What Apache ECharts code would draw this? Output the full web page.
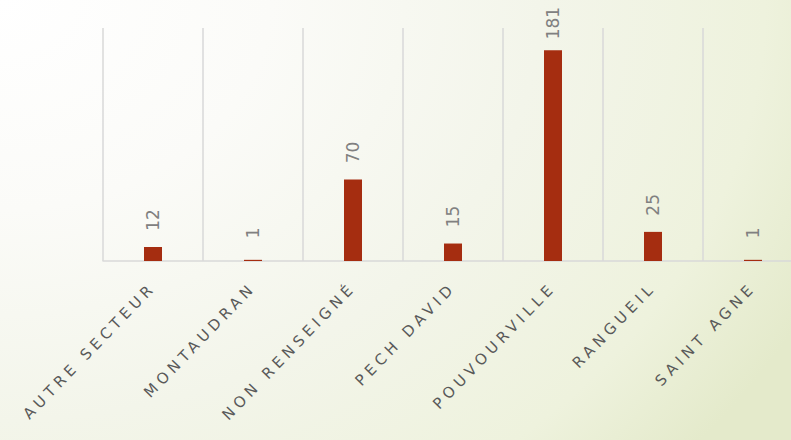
<!DOCTYPE html>
<html>
<head>
<meta charset="utf-8">
<script src="https://cdn.jsdelivr.net/npm/echarts@6/dist/echarts.min.js"></script>
<style>
  html, body { margin: 0; padding: 0; }
  body {
    width: 791px; height: 440px; overflow: hidden;
    background: radial-gradient(900px 700px at 0px 0px, #ffffff 0%, #fbfbf8 30%, #f3f5ea 60%, #eef2dd 85%, #e4eacb 100%);
  }
  #chart { width: 791px; height: 440px; }
  #chart text[fill="#595959"], #chart text[fill="rgb(89,89,89)"] { letter-spacing: 4.5px; }
</style>
</head>
<body>
<div id="chart"></div>
<script>
const categories = ["AUTRE SECTEUR", "MONTAUDRAN", "NON RENSEIGNÉ", "PECH DAVID", "POUVOURVILLE", "RANGUEIL", "SAINT AGNE"];
const values = [12, 1, 70, 15, 181, 25, 1];

const chart = echarts.init(document.getElementById('chart'), null, { renderer: 'svg' });
chart.setOption({
  backgroundColor: 'transparent',
  animation: false,
  grid: { left: 103, top: 28, width: 700, height: 233, containLabel: false, outerBoundsMode: 'none' },
  xAxis: {
    type: 'category',
    data: categories,
    boundaryGap: true,
    axisLine: { show: true, lineStyle: { color: '#d9d9d9', width: 1.5 } },
    axisTick: { show: false },
    splitLine: { show: true, lineStyle: { color: '#d9d9d9', width: 1.5 } },
    axisLabel: {
      interval: 0,
      rotate: 46,
      margin: 24,
      color: '#595959',
      fontFamily: 'DejaVu Sans',
      fontSize: 15
    }
  },
  yAxis: {
    type: 'value',
    min: 0, max: 200,
    show: false,
    splitLine: { show: false }
  },
  series: [{
    type: 'bar',
    data: values,
    barWidth: 18,
    itemStyle: { color: '#A52D10' },
    label: {
      show: true,
      position: 'top',
      rotate: 90,
      align: 'center',
      verticalAlign: 'middle',
      distance: 27,
      color: '#808080',
      fontFamily: 'DejaVu Sans',
      fontSize: 17
    }
  }]
});
</script>
</body>
</html>
